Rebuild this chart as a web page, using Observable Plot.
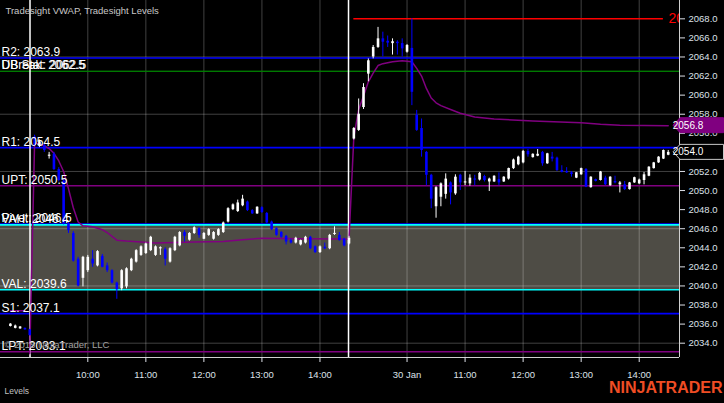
<!DOCTYPE html>
<html><head><meta charset="utf-8">
<script src="https://cdn.jsdelivr.net/npm/d3@7"></script>
<script src="https://cdn.jsdelivr.net/npm/@observablehq/plot@0.6"></script>
<style>
html,body{margin:0;padding:0;background:#000;}
#chart{width:724px;height:403px;overflow:hidden;}
</style></head><body><div id="chart"></div>
<script>
// ---- bar data (5-minute bars, index -4 .. 132) ----
const firstBar = -4;
const opens = [
  2035.75, 2035.55, 2035.5, 2035.55, 2035.4,
  2055.6, 2054.7, 2054.7, 2053.6, 2053.8, 2052.2, 2051.0, 2046.5, 2045.5, 2042.8,
  2040.8, 2041.6, 2042.8, 2042.1, 2043.1, 2042.1, 2041.6, 2040.3, 2039.7, 2039.9,
  2041.6, 2042.5, 2043.2, 2043.4, 2043.7, 2043.2, 2043.9, 2043.8, 2042.5, 2043.7,
  2044.2, 2045.6, 2044.8, 2045.5, 2046.0, 2044.9, 2045.3, 2044.9, 2045.3, 2045.6,
  2046.7, 2048.0, 2047.8, 2048.4, 2048.8, 2047.9, 2047.55, 2048.2, 2047.6, 2046.7,
  2046.0, 2045.6, 2045.2, 2044.75, 2044.5, 2044.3, 2044.5, 2045.1, 2044.1, 2043.5,
  2044.05, 2043.9, 2045.4, 2045.3, 2044.9, 2044.4,
  2055.4, 2056.3, 2058.7, 2062.2, 2064.0, 2065.0, 2065.9, 2065.65, 2065.4, 2065.55,
  2065.4, 2064.5, 2064.9, 2057.9, 2056.5, 2054.0, 2051.6, 2048.3, 2049.3, 2049.6,
  2050.8, 2049.65, 2051.6, 2050.8, 2050.7, 2051.2, 2051.1, 2051.47, 2050.9, 2050.9,
  2051.15, 2050.9, 2051.2, 2052.3, 2052.7, 2052.9, 2054.1, 2053.45, 2053.6, 2054.0,
  2052.8, 2053.5, 2053.4, 2052.1, 2052.0, 2051.86, 2051.3, 2051.65, 2052.2, 2050.3,
  2051.15, 2051.05, 2051.3, 2050.5, 2050.95, 2050.6, 2050.6, 2050.1, 2050.8, 2050.7,
  2051.05, 2051.5, 2052.3, 2052.9, 2053.3, 2053.7
];
const highs = [
  2036.05, 2035.9, 2035.75, 2035.6, 2035.45,
  2055.8, 2055.3, 2054.9, 2054.0, 2054.0, 2052.4, 2051.2, 2046.7, 2045.7, 2043.0,
  2043.1, 2043.2, 2043.7, 2043.7, 2043.3, 2042.4, 2041.7, 2040.4, 2041.7, 2041.9,
  2042.9, 2043.8, 2044.2, 2044.5, 2045.2, 2044.2, 2044.1, 2044.0, 2044.0, 2045.2,
  2045.7, 2045.8, 2045.6, 2046.2, 2046.1, 2045.6, 2046.0, 2045.7, 2046.0, 2046.7,
  2048.2, 2048.6, 2049.0, 2049.5, 2048.9, 2048.0, 2048.3, 2048.3, 2047.7, 2046.8,
  2046.1, 2045.7, 2045.3, 2044.9, 2045.1, 2044.8, 2045.2, 2045.2, 2044.2, 2044.2,
  2044.5, 2045.4, 2046.2, 2045.6, 2045.0, 2045.2,
  2056.6, 2059.6, 2061.2, 2063.8, 2065.2, 2067.1, 2066.6, 2066.2, 2065.9, 2065.7,
  2065.9, 2065.3, 2068.0, 2058.4, 2057.5, 2054.1, 2051.7, 2050.4, 2050.8, 2051.75,
  2050.9, 2051.65, 2051.7, 2052.0, 2051.65, 2051.6, 2051.9, 2051.6, 2051.3, 2051.55,
  2051.85, 2051.45, 2052.35, 2053.3, 2053.6, 2054.2, 2054.3, 2053.85, 2054.3, 2054.1,
  2053.9, 2054.0, 2053.5, 2052.6, 2052.4, 2052.0, 2051.9, 2052.35, 2052.3, 2051.45,
  2051.2, 2052.0, 2051.5, 2051.45, 2051.5, 2050.95, 2050.95, 2050.85, 2051.4, 2051.2,
  2051.9, 2052.5, 2052.95, 2053.55, 2054.25, 2054.2
];
const lows = [
  2035.7, 2035.5, 2035.45, 2035.35, 2034.75,
  2054.6, 2054.5, 2054.0, 2053.3, 2052.1, 2050.9, 2046.4, 2045.5, 2042.5, 2039.9,
  2039.9, 2041.4, 2041.95, 2042.0, 2041.9, 2041.4, 2040.2, 2038.6, 2039.5, 2039.7,
  2041.5, 2042.4, 2043.1, 2043.3, 2043.6, 2043.1, 2043.2, 2042.1, 2042.4, 2043.6,
  2044.1, 2044.6, 2044.7, 2045.4, 2045.0, 2044.85, 2045.2, 2044.8, 2045.2, 2045.5,
  2046.6, 2047.9, 2047.7, 2048.3, 2047.8, 2047.5, 2047.5, 2047.6, 2046.5, 2045.8,
  2045.2, 2045.0, 2044.3, 2044.4, 2044.4, 2044.2, 2044.4, 2043.8, 2043.4, 2043.4,
  2043.8, 2043.8, 2045.3, 2044.7, 2044.1, 2044.3,
  2055.3, 2056.2, 2058.5, 2061.4, 2063.8, 2064.9, 2064.0, 2065.0, 2064.2, 2064.2,
  2064.0, 2064.4, 2058.9, 2056.2, 2053.5, 2050.5, 2048.1, 2047.1, 2048.3, 2049.1,
  2048.5, 2049.5, 2050.0, 2050.5, 2050.45, 2050.5, 2051.0, 2050.9, 2049.9, 2050.85,
  2050.5, 2050.85, 2051.1, 2052.2, 2052.6, 2052.8, 2053.5, 2053.4, 2053.55, 2052.55,
  2052.75, 2053.0, 2052.0, 2051.85, 2051.8, 2051.4, 2051.25, 2051.6, 2050.3, 2050.25,
  2050.9, 2051.0, 2050.5, 2050.45, 2050.7, 2049.75, 2050.0, 2050.05, 2050.75, 2050.65,
  2050.6, 2051.45, 2052.25, 2052.85, 2053.25, 2053.65
];
const closes = [
  2036.0, 2035.8, 2035.7, 2035.4, 2034.8,
  2054.7, 2055.1, 2054.2, 2053.7, 2052.2, 2051.05, 2046.5, 2045.8, 2042.6, 2040.0,
  2043.0, 2043.0, 2042.3, 2043.6, 2041.95, 2041.6, 2040.3, 2039.6, 2041.6, 2041.8,
  2042.8, 2043.7, 2044.1, 2044.4, 2045.1, 2044.1, 2044.0, 2042.8, 2043.9, 2045.1,
  2045.6, 2045.2, 2045.5, 2046.1, 2045.3, 2045.5, 2045.9, 2045.6, 2045.9, 2046.6,
  2048.1, 2048.5, 2048.7, 2049.1, 2047.9, 2047.55, 2048.25, 2047.7, 2046.6, 2045.9,
  2045.3, 2045.1, 2044.6, 2044.5, 2045.0, 2044.75, 2045.1, 2043.9, 2043.5, 2044.1,
  2043.9, 2045.3, 2045.5, 2044.75, 2044.2, 2045.0,
  2056.5, 2058.0, 2060.8, 2063.6, 2065.0, 2065.9, 2065.55, 2065.45, 2065.6, 2065.4,
  2064.85, 2065.2, 2060.3, 2056.3, 2054.2, 2051.6, 2049.1, 2050.3, 2050.7, 2051.2,
  2049.75, 2051.4, 2050.8, 2050.9, 2051.3, 2051.1, 2051.8, 2051.05, 2051.2, 2051.5,
  2050.8, 2051.4, 2052.3, 2053.2, 2053.5, 2054.1, 2053.75, 2053.8, 2053.8, 2052.8,
  2053.85, 2053.3, 2052.1, 2051.9, 2051.85, 2051.68, 2051.86, 2052.3, 2050.35, 2051.4,
  2050.95, 2051.95, 2050.6, 2051.4, 2050.8, 2050.8, 2050.1, 2050.8, 2051.35, 2051.1,
  2051.65, 2052.45, 2052.9, 2053.5, 2054.2, 2054.0
];

// ---- Tradesight VWAP ----
const premarketVwapBars = [-4, -1];
const premarketVwapValues = [2037.4, 2037.4];
const vwapBars = [0, 1, 2, 3, 4, 5, 6, 7, 8, 9, 10, 11, 13, 15, 16, 17, 18, 20, 26, 34, 40, 44, 48, 56, 65, 66,
  67, 68, 69, 70, 71, 72, 73, 75, 77, 79, 80, 81, 82, 83, 84, 85, 87, 89, 92, 96, 104, 114, 118, 122, 132];
const vwapValues = [2032.9, 2055.0, 2054.9, 2054.7, 2054.4, 2053.9, 2053.1, 2052.0, 2050.2, 2048.2, 2046.7, 2046.3,
  2046.2, 2045.9, 2045.6, 2045.2, 2044.8, 2044.7, 2044.5, 2044.6, 2044.65, 2044.85, 2045.0, 2044.95, 2044.93, 2044.9,
  2055.6, 2058.5, 2059.9, 2061.4, 2062.3, 2063.1, 2063.3, 2063.5, 2063.6, 2063.5, 2062.8, 2062.0, 2060.7, 2059.7,
  2059.2, 2058.9, 2058.5, 2058.1, 2057.7, 2057.5, 2057.3, 2057.1, 2056.95, 2056.85, 2056.8];

// ---- Tradesight Levels ----
const levelNames = ["R2", "UB Stat", "DBreak", "R1", "UPT", "Pivot", "VAH", "VAL", "S1", "LPT"];
const levelValues = [2063.9, 2062.5, 2062.5, 2054.5, 2050.5, 2046.5, 2046.4, 2039.6, 2037.1, 2033.1];
const levelColors = ["#0000ff", "#008000", "#008000", "#0000ff", "#800080", "#0000ff", "#00ffff", "#00ffff", "#0000ff", "#800080"];
const valueAreaHigh = 2046.4;
const valueAreaLow = 2039.6;
const dayHighValue = 2068.0;
const dayHighBars = [67, 131];
const lastVwap = 2056.8;
const lastPrice = 2054.0;

// ---- axes ----
const tickBars = [12, 24, 36, 48, 60, 78, 90, 102, 114, 126];
const tickLabels = ["10:00", "11:00", "12:00", "13:00", "14:00", "30 Jan", "11:00", "12:00", "13:00", "14:00"];
const sessionBreaks = [0.05, 65.9];
const yTickValues = [2034, 2036, 2038, 2040, 2042, 2044, 2046, 2048, 2050, 2052, 2054, 2056, 2058, 2060, 2062, 2064, 2066, 2068];
const gridValues = [2034, 2040, 2046, 2052, 2058, 2064];
const xDomain = [-6.05, 134.33];
const yDomain = [2032.5, 2069.92];

const bars = opens.map((o, k) => ({i: firstBar + k, o, h: highs[k], l: lows[k], c: closes[k]}));
const barColor = d => d.c >= d.o ? "#ffffff" : "#0000ff";
const bodyTop = d => Math.max(d.o, d.c, (d.o + d.c) / 2 + 0.06);
const bodyBot = d => Math.min(d.o, d.c, (d.o + d.c) / 2 - 0.06);
const levels = levelNames.map((name, k) => ({name, value: levelValues[k], color: levelColors[k]}));
const vwap = [
  ...premarketVwapBars.map((i, k) => ({i, v: premarketVwapValues[k], s: "pre"})),
  ...vwapBars.map((i, k) => ({i, v: vwapValues[k], s: "rth"}))
];
const dayHigh = [{y: dayHighValue, from: dayHighBars[0], to: dayHighBars[1]}];

const plot = Plot.plot({
  width: 724, height: 403,
  marginTop: 0, marginLeft: 0, marginRight: 45, marginBottom: 46,
  x: {domain: xDomain, axis: null},
  y: {domain: yDomain, axis: null},
  style: {background: "#000", color: "#ddd", fontFamily: "'Liberation Sans', Arial, sans-serif", overflow: "visible"},
  marks: [
    Plot.rect([{top: valueAreaHigh, bottom: valueAreaLow}], {y1: "bottom", y2: "top", fill: "#4e4c45"}),
    Plot.ruleY(gridValues, {stroke: "#fff", strokeOpacity: 0.25}),
    Plot.ruleX(tickBars, {stroke: "#fff", strokeOpacity: 0.25}),
    Plot.ruleY(levels, {y: "value", stroke: "color", strokeWidth: d => d.color === "#008000" ? 1 : 1.6}),
    Plot.ruleY(dayHigh, {y: "y", x1: "from", x2: "to", stroke: "#ff0000", strokeWidth: 1.5}),
    Plot.text(dayHigh, {x: "to", y: "y", text: d => d.y.toFixed(1), dx: 5, textAnchor: "start", fill: "#ff0000", fontSize: 14, clip: true}),
    Plot.ruleX(sessionBreaks, {stroke: "#fff", strokeWidth: 1.5}),
    Plot.line(vwap, {x: "i", y: "v", z: "s", stroke: "#800080", strokeWidth: 1.5}),
    Plot.ruleX(bars, {x: "i", y1: "l", y2: "h", stroke: barColor, strokeWidth: 1}),
    Plot.ruleX(bars, {x: "i", y1: bodyBot, y2: bodyTop, stroke: barColor, strokeWidth: 2.6}),
    Plot.text(levels, {y: "value", text: d => `${d.name}: ${d.value.toFixed(1)}`, frameAnchor: "left", textAnchor: "start",
      lineAnchor: "bottom", dx: 1, dy: -2, fill: "#fff", fontSize: 12}),
    Plot.text(["Tradesight VWAP, Tradesight Levels"], {frameAnchor: "top-left", textAnchor: "start", lineAnchor: "top",
      dx: 5, dy: 7, fill: "#c8c8c8", fontSize: 9.5}),
    Plot.text(["\u00a9 2015 NinjaTrader, LLC"], {frameAnchor: "bottom-left", textAnchor: "start", lineAnchor: "bottom",
      dx: 4, dy: -9.5, fill: "#a0a0a0", fontSize: 9.5}),
    Plot.ruleX([xDomain[1]], {stroke: "#d0d0d0"}),
    Plot.ruleY([yDomain[0]], {stroke: "#d0d0d0"}),
    Plot.axisY({anchor: "right", ticks: yTickValues, tickFormat: d => d.toFixed(1), tickSize: 5, tickPadding: 4,
      fontSize: 9.5, color: "#dde0e8"}),
    Plot.axisX({anchor: "bottom", ticks: tickBars, tickFormat: d => tickLabels[tickBars.indexOf(d)], tickSize: 5,
      tickPadding: 9, fontSize: 9.5, color: "#dde0e8"}),
    Plot.text(["Levels"], {frameAnchor: "bottom-left", textAnchor: "start", dx: 4, dy: 36, fill: "#c0c0c0", fontSize: 8.5}),
    Plot.text(["NINJATRADER"], {frameAnchor: "bottom-right", textAnchor: "end", dx: 43, dy: 35, fill: "#ef4d24",
      fontSize: 16, fontWeight: "bold"})
  ]
});

// price tags on the right axis
const ys = plot.scale("y");
const svg = d3.select(plot);
function tag(value, fill, stroke) {
  const y = ys.apply(value);
  const g = svg.append("g");
  g.append("path")
    .attr("d", `M673,${y} L680,${y - 7.5} L723.5,${y - 7.5} L723.5,${y + 7.5} L680,${y + 7.5} Z`)
    .attr("fill", fill).attr("stroke", stroke).attr("stroke-width", 1);
  g.append("text").attr("x", 688).attr("y", y).attr("dy", "0.35em")
    .attr("fill", "#fff").attr("font-size", 10).text(value.toFixed(1));
}
tag(lastVwap, "#800080", "#800080");
tag(lastPrice, "#000", "#c8c8c8");

document.getElementById("chart").appendChild(plot);
</script>
</body></html>
